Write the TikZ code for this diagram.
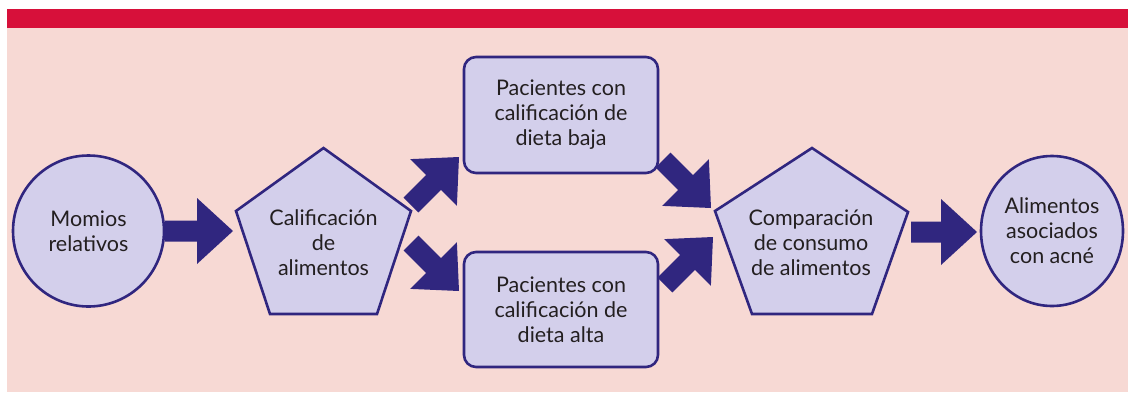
\documentclass[tikz,border=0pt]{standalone}
\usepackage{fontspec}
\setmainfont{Lato}
\usetikzlibrary{calc,shapes.geometric}
\definecolor{barred}{HTML}{D7103A}
\definecolor{bgpink}{HTML}{F7D9D4}
\definecolor{lav}{HTML}{D3CFEB}
\definecolor{navy}{HTML}{30267F}
\definecolor{txt}{HTML}{231F20}
\newcommand\blockarrow[2]{%
  \path coordinate (bah) at ($(#2)!36pt!(#1)$);
  \fill[arrowfill] ($(#1)!10.5pt!90:(#2)$) -- ($(bah)!10.5pt!90:(#2)$) -- ($(bah)!33pt!90:(#2)$) -- (#2)
    -- ($(bah)!33pt!-90:(#2)$) -- ($(bah)!10.5pt!-90:(#2)$) -- ($(#1)!10.5pt!-90:(#2)$) -- cycle;
}
\begin{document}
\begin{tikzpicture}[x=1pt,y=-1pt,
  lbl/.style={text=txt, align=center, font=\fontsize{21.5}{25}\selectfont},
  shapebox/.style={lbl, draw=navy, fill=lav, line width=2.6pt, inner sep=0pt},
  pentline/.style={draw=navy, fill=lav, line width=2.6pt, line join=miter},
  arrowfill/.style={fill=navy}]
\useasboundingbox (0,0) rectangle (1128,392);
\fill[white] (0,0) rectangle (1128,392);
\fill[bgpink] (7,28) rectangle (1128,392);
\fill[barred] (7,9) rectangle (1128,28);

% circles
\node[shapebox, circle, minimum size=151pt] (m) at (88.5,231) {Momios\\relativos};
\node[shapebox, ellipse, minimum width=142pt, minimum height=150pt] (al) at (1052,231) {Alimentos\\asociados\\con acné};

% pentagons
\path[pentline] (323.5,148) -- (411,211) -- (377,314) -- (270,314) -- (236,211) -- cycle;
\node[lbl] (p1) at (323.5,243) {Calificación\\de\\alimentos};
\path[pentline] (812,148) -- (908,212) -- (872,314) -- (752,314) -- (715,211) -- cycle;
\node[lbl] (p2) at (811,243) {Comparación\\de consumo\\de alimentos};

% boxes
\node[shapebox, rectangle, rounded corners=12pt, minimum width=194pt, minimum height=116pt] (lo) at (561,115) {Pacientes con\\calificación de\\dieta baja};
\node[shapebox, rectangle, rounded corners=12pt, minimum width=194pt, minimum height=115pt] (hi) at (561,309.5) {Pacientes con\\calificación de\\dieta alta};

% arrow ends
\coordinate (a1s) at (165,231);  \coordinate (a1e) at (233,231);
\coordinate (a2s) at (411,205);  \coordinate (a2e) at (459,157);
\coordinate (a3s) at (411,243);  \coordinate (a3e) at (459,291);
\coordinate (a4s) at (663,160);  \coordinate (a4e) at (711,208);
\coordinate (a5s) at (665,285);  \coordinate (a5e) at (713,237);
\coordinate (a6s) at (911,232);  \coordinate (a6e) at (977,232);
\blockarrow{a1s}{a1e}
\blockarrow{a2s}{a2e}
\blockarrow{a3s}{a3e}
\blockarrow{a4s}{a4e}
\blockarrow{a5s}{a5e}
\blockarrow{a6s}{a6e}
\end{tikzpicture}
\end{document}
